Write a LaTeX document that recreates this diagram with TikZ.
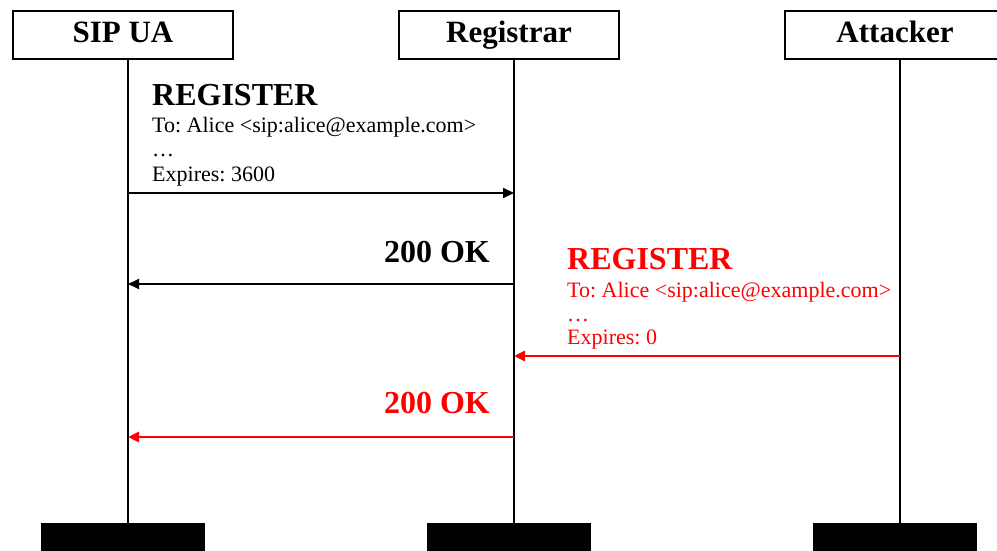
\documentclass[tikz,border=0pt]{standalone}
\usepackage{fontspec}
\setmainfont{Liberation Serif}
\usepackage{xcolor}
\usetikzlibrary{arrows.meta}
\definecolor{attack}{RGB}{255,0,0}
\frenchspacing

\begin{document}
\begin{tikzpicture}[x=1pt,y=-1pt,
    head/.style={draw,line width=1.2pt,minimum width=220pt,minimum height=48pt,inner sep=0pt,
                 text height=22pt,text depth=6pt,font=\bfseries\fontsize{31}{31}\selectfont},
    foot/.style={fill=black,minimum width=164pt,minimum height=28pt,inner sep=0pt},
    life/.style={line width=1.8pt},
    msg/.style={line width=2pt,-{Triangle[length=11pt,width=10pt]}},
    bad/.style={msg,attack,line width=2.8pt},
    big/.style={anchor=base west,inner sep=0pt,font=\bfseries\fontsize{32}{32}\selectfont},
    small/.style={anchor=base west,inner sep=0pt,font=\fontsize{22}{24}\selectfont}]
    \useasboundingbox (0,0) rectangle (997,551);
    \clip (0,0) rectangle (997,551);

    % the three parties
    \node[head] (ua)  at (123,35) {SIP UA};
    \node[head] (reg) at (509,35) {Registrar};
    \node[head] (att) at (895,35) {Attacker};
    \node[foot] (uaEnd)  at (123,537) {};
    \node[foot] (regEnd) at (509,537) {};
    \node[foot] (attEnd) at (895,537) {};

    % lifelines
    \coordinate (uaL)  at ([xshift=5pt]ua.south);
    \coordinate (regL) at ([xshift=5pt]reg.south);
    \coordinate (attL) at ([xshift=5pt]att.south);
    \draw[life] (uaL)  -- (uaL  |- uaEnd.north);
    \draw[life] (regL) -- (regL |- regEnd.north);
    \draw[life] (attL) -- (attL |- attEnd.north);

    % honest registration
    \draw[msg] (uaL |- 0,193) -- (regL |- 0,193);
    \node[big]   (r1)  at (152,106) {REGISTER};
    \node[small] (r1a) at (152,132) {To: Alice <sip:alice@example.com>};
    \node[small] (r1b) at (152,157) {\dots};
    \node[small] (r1c) at (152,181) {Expires: 3600};

    \draw[msg] (regL |- 0,284) -- (uaL |- 0,284);
    \node[big,anchor=base east] (ok1) at (490,262) {200 OK};

    % forged de-registration
    \draw[bad] (attL |- 0,356) -- (regL |- 0,356);
    \node[big,attack]   (r2)  at (567,269) {REGISTER};
    \node[small,attack] (r2a) at (567,297) {To: Alice <sip:alice@example.com>};
    \node[small,attack] (r2b) at (567,321) {\dots};
    \node[small,attack] (r2c) at (567,344) {Expires: 0};

    \draw[bad] (regL |- 0,437) -- (uaL |- 0,437);
    \node[big,attack,anchor=base east] (ok2) at (490,413) {200 OK};
\end{tikzpicture}
\end{document}
